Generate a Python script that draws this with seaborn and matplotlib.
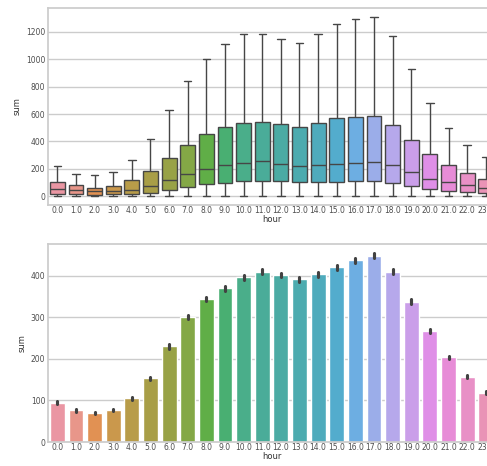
import numpy as np
import pandas as pd
import seaborn as sns
import matplotlib
matplotlib.use("Agg")
import matplotlib.pyplot as plt

hours = [float(h) for h in range(24)]

# box plot summaries (whisker low, q1, median, q3, whisker high)
box_low = [1] * 24
box_q1 = [19, 15, 12, 15, 19, 27, 44, 68, 87, 99, 109, 114,
          109, 104, 104, 104, 109, 112, 95, 73, 56, 41, 32, 22]
box_med = [56, 48, 39, 39, 48, 73, 116, 165, 196, 230, 242, 255,
           238, 221, 230, 233, 240, 250, 230, 175, 128, 104, 80, 61]
box_q3 = [104, 80, 63, 78, 116, 184, 279, 376, 451, 504, 538, 543,
          528, 509, 533, 570, 579, 587, 521, 412, 310, 225, 170, 124]
box_high = [218, 165, 153, 177, 262, 419, 630, 839, 999, 1115, 1188, 1188,
            1147, 1122, 1188, 1256, 1297, 1309, 1168, 928, 679, 497, 376, 284]

# mean per hour and half width of the error bar
bar_mean = [95, 76, 70, 77, 105, 153, 230, 301, 344, 370, 396, 410,
            401, 392, 404, 421, 437, 448, 410, 338, 267, 204, 157, 119]
bar_err = [3, 3, 3, 3, 3, 4, 5, 5, 5, 6, 5, 6,
           5, 6, 6, 6, 6, 6, 6, 6, 5, 4, 4, 4]

box_rows = []
for i, h in enumerate(hours):
    for v in (box_low[i], box_q1[i], box_med[i], box_q3[i], box_high[i]):
        box_rows.append({"hour": h, "sum": v})
df_box = pd.DataFrame(box_rows)

bar_rows = []
for i, h in enumerate(hours):
    bar_rows.append({"hour": h, "sum": bar_mean[i] - bar_err[i]})
    bar_rows.append({"hour": h, "sum": bar_mean[i] + bar_err[i]})
df_bar = pd.DataFrame(bar_rows)

sns.set_theme(style="whitegrid")
plt.rcParams["font.family"] = ["DejaVu Sans"]
pal = sns.husl_palette(24, l=.7)

fig = plt.figure(figsize=(4.87, 4.66), dpi=100)
ax1 = fig.add_axes([0.0986, 0.560, 0.918, 0.4227])
ax2 = fig.add_axes([0.0986, 0.0515, 0.918, 0.425])

sns.boxplot(data=df_box, x="hour", y="sum", hue="hour", palette=pal,
            whis=(0, 100), showfliers=False, legend=False, ax=ax1)
sns.barplot(data=df_bar, x="hour", y="sum", hue="hour", palette=pal,
            errorbar=lambda v: (v.min(), v.max()), legend=False, ax=ax2)

for ax in (ax1, ax2):
    ax.tick_params(axis="x", labelsize=5.5, pad=1, length=0, colors=".3")
    ax.tick_params(axis="y", labelsize=5.5, pad=2, length=0, colors=".3")
    ax.set_xlabel("hour", fontsize=6, labelpad=0, color=".2")
    ax.set_ylabel("sum", fontsize=6, labelpad=3, color=".2")

ax1.set_yticks([0, 200, 400, 600, 800, 1000, 1200])
ax2.set_yticks([0, 100, 200, 300, 400])

fig.savefig("out.png", dpi=100)
